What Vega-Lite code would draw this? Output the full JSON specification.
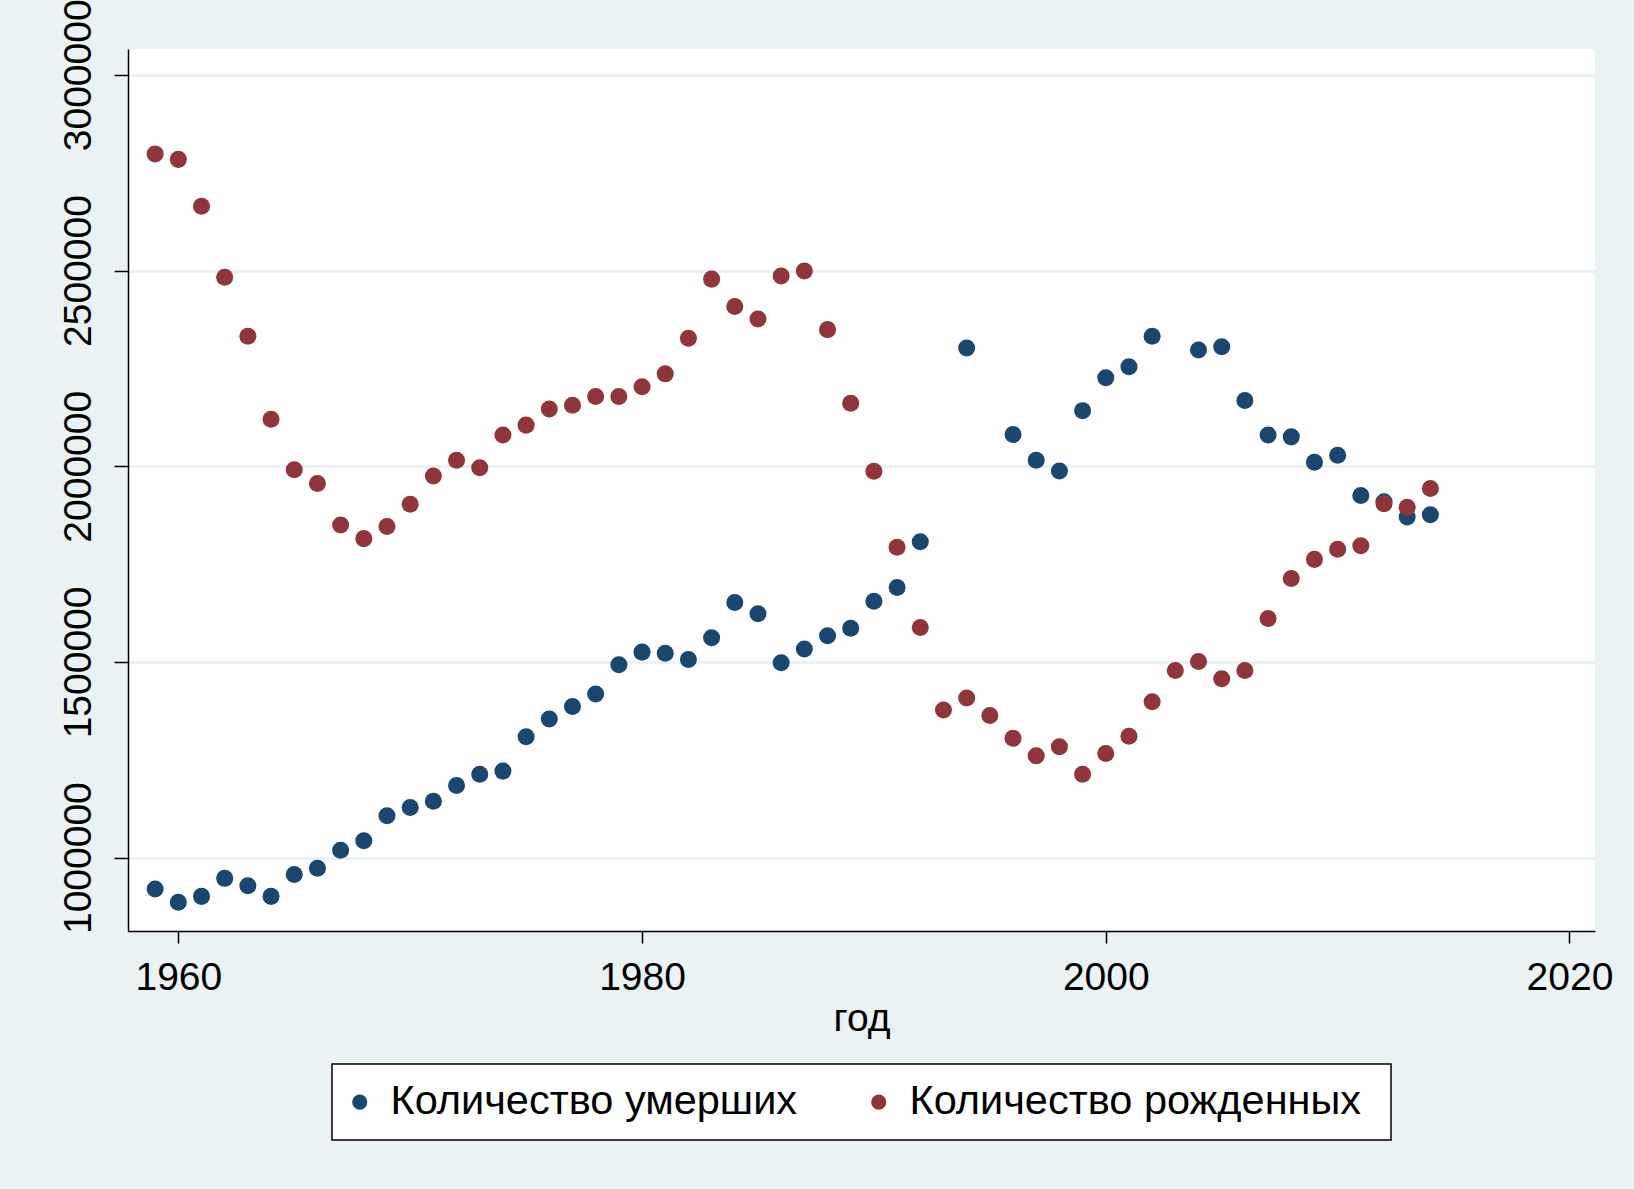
{
  "$schema": "https://vega.github.io/schema/vega-lite/v6.json",
  "width": 1467,
  "height": 882,
  "autosize": {"type": "none"},
  "padding": {"left": 128, "top": 49, "right": 39, "bottom": 258},
  "background": "#EAF2F3",
  "view": {"fill": "white", "stroke": null},
  "config": {"font": "Liberation Sans", "legend": {"strokeWidth": 1.5}},
  "data": {
    "values": [
      {"year": 1959, "series": "Количество умерших", "value": 920000},
      {"year": 1960, "series": "Количество умерших", "value": 886000},
      {"year": 1961, "series": "Количество умерших", "value": 901000},
      {"year": 1962, "series": "Количество умерших", "value": 947000},
      {"year": 1963, "series": "Количество умерших", "value": 928000},
      {"year": 1964, "series": "Количество умерших", "value": 901000},
      {"year": 1965, "series": "Количество умерших", "value": 957000},
      {"year": 1966, "series": "Количество умерших", "value": 973000},
      {"year": 1967, "series": "Количество умерших", "value": 1019000},
      {"year": 1968, "series": "Количество умерших", "value": 1043000},
      {"year": 1969, "series": "Количество умерших", "value": 1107000},
      {"year": 1970, "series": "Количество умерших", "value": 1128000},
      {"year": 1971, "series": "Количество умерших", "value": 1144000},
      {"year": 1972, "series": "Количество умерших", "value": 1184000},
      {"year": 1973, "series": "Количество умерших", "value": 1213000},
      {"year": 1974, "series": "Количество умерших", "value": 1221000},
      {"year": 1975, "series": "Количество умерших", "value": 1309000},
      {"year": 1976, "series": "Количество умерших", "value": 1354000},
      {"year": 1977, "series": "Количество умерших", "value": 1386000},
      {"year": 1978, "series": "Количество умерших", "value": 1418000},
      {"year": 1979, "series": "Количество умерших", "value": 1493000},
      {"year": 1980, "series": "Количество умерших", "value": 1525000},
      {"year": 1981, "series": "Количество умерших", "value": 1522000},
      {"year": 1982, "series": "Количество умерших", "value": 1506000},
      {"year": 1983, "series": "Количество умерших", "value": 1562000},
      {"year": 1984, "series": "Количество умерших", "value": 1652000},
      {"year": 1985, "series": "Количество умерших", "value": 1623000},
      {"year": 1986, "series": "Количество умерших", "value": 1498000},
      {"year": 1987, "series": "Количество умерших", "value": 1533000},
      {"year": 1988, "series": "Количество умерших", "value": 1567000},
      {"year": 1989, "series": "Количество умерших", "value": 1586000},
      {"year": 1990, "series": "Количество умерших", "value": 1655000},
      {"year": 1991, "series": "Количество умерших", "value": 1690000},
      {"year": 1992, "series": "Количество умерших", "value": 1807000},
      {"year": 1994, "series": "Количество умерших", "value": 2302000},
      {"year": 1996, "series": "Количество умерших", "value": 2081000},
      {"year": 1997, "series": "Количество умерших", "value": 2015000},
      {"year": 1998, "series": "Количество умерших", "value": 1988000},
      {"year": 1999, "series": "Количество умерших", "value": 2142000},
      {"year": 2000, "series": "Количество умерших", "value": 2226000},
      {"year": 2001, "series": "Количество умерших", "value": 2254000},
      {"year": 2002, "series": "Количество умерших", "value": 2332000},
      {"year": 2004, "series": "Количество умерших", "value": 2297000},
      {"year": 2005, "series": "Количество умерших", "value": 2305000},
      {"year": 2006, "series": "Количество умерших", "value": 2168000},
      {"year": 2007, "series": "Количество умерших", "value": 2080000},
      {"year": 2008, "series": "Количество умерших", "value": 2075000},
      {"year": 2009, "series": "Количество умерших", "value": 2010000},
      {"year": 2010, "series": "Количество умерших", "value": 2028000},
      {"year": 2011, "series": "Количество умерших", "value": 1925000},
      {"year": 2012, "series": "Количество умерших", "value": 1909000},
      {"year": 2013, "series": "Количество умерших", "value": 1870000},
      {"year": 2014, "series": "Количество умерших", "value": 1876000},
      {"year": 1959, "series": "Количество рожденных", "value": 2798000},
      {"year": 1960, "series": "Количество рожденных", "value": 2784000},
      {"year": 1961, "series": "Количество рожденных", "value": 2664000},
      {"year": 1962, "series": "Количество рожденных", "value": 2483000},
      {"year": 1963, "series": "Количество рожденных", "value": 2332000},
      {"year": 1964, "series": "Количество рожденных", "value": 2120000},
      {"year": 1965, "series": "Количество рожденных", "value": 1991000},
      {"year": 1966, "series": "Количество рожденных", "value": 1956000},
      {"year": 1967, "series": "Количество рожденных", "value": 1850000},
      {"year": 1968, "series": "Количество рожденных", "value": 1815000},
      {"year": 1969, "series": "Количество рожденных", "value": 1846000},
      {"year": 1970, "series": "Количество рожденных", "value": 1903000},
      {"year": 1971, "series": "Количество рожденных", "value": 1975000},
      {"year": 1972, "series": "Количество рожденных", "value": 2015000},
      {"year": 1973, "series": "Количество рожденных", "value": 1996000},
      {"year": 1974, "series": "Количество рожденных", "value": 2080000},
      {"year": 1975, "series": "Количество рожденных", "value": 2105000},
      {"year": 1976, "series": "Количество рожденных", "value": 2146000},
      {"year": 1977, "series": "Количество рожденных", "value": 2156000},
      {"year": 1978, "series": "Количество рожденных", "value": 2178000},
      {"year": 1979, "series": "Количество рожденных", "value": 2178000},
      {"year": 1980, "series": "Количество рожденных", "value": 2203000},
      {"year": 1981, "series": "Количество рожденных", "value": 2236000},
      {"year": 1982, "series": "Количество рожденных", "value": 2327000},
      {"year": 1983, "series": "Количество рожденных", "value": 2478000},
      {"year": 1984, "series": "Количество рожденных", "value": 2408000},
      {"year": 1985, "series": "Количество рожденных", "value": 2376000},
      {"year": 1986, "series": "Количество рожденных", "value": 2486000},
      {"year": 1987, "series": "Количество рожденных", "value": 2499000},
      {"year": 1988, "series": "Количество рожденных", "value": 2349000},
      {"year": 1989, "series": "Количество рожденных", "value": 2161000},
      {"year": 1990, "series": "Количество рожденных", "value": 1987000},
      {"year": 1991, "series": "Количество рожденных", "value": 1793000},
      {"year": 1992, "series": "Количество рожденных", "value": 1588000},
      {"year": 1993, "series": "Количество рожденных", "value": 1377000},
      {"year": 1994, "series": "Количество рожденных", "value": 1408000},
      {"year": 1995, "series": "Количество рожденных", "value": 1363000},
      {"year": 1996, "series": "Количество рожденных", "value": 1305000},
      {"year": 1997, "series": "Количество рожденных", "value": 1260000},
      {"year": 1998, "series": "Количество рожденных", "value": 1283000},
      {"year": 1999, "series": "Количество рожденных", "value": 1213000},
      {"year": 2000, "series": "Количество рожденных", "value": 1266000},
      {"year": 2001, "series": "Количество рожденных", "value": 1310000},
      {"year": 2002, "series": "Количество рожденных", "value": 1398000},
      {"year": 2003, "series": "Количество рожденных", "value": 1478000},
      {"year": 2004, "series": "Количество рожденных", "value": 1501000},
      {"year": 2005, "series": "Количество рожденных", "value": 1457000},
      {"year": 2006, "series": "Количество рожденных", "value": 1478000},
      {"year": 2007, "series": "Количество рожденных", "value": 1611000},
      {"year": 2008, "series": "Количество рожденных", "value": 1713000},
      {"year": 2009, "series": "Количество рожденных", "value": 1762000},
      {"year": 2010, "series": "Количество рожденных", "value": 1788000},
      {"year": 2011, "series": "Количество рожденных", "value": 1797000},
      {"year": 2012, "series": "Количество рожденных", "value": 1904000},
      {"year": 2013, "series": "Количество рожденных", "value": 1895000},
      {"year": 2014, "series": "Количество рожденных", "value": 1943000}
    ]
  },
  "mark": {"type": "point", "filled": true, "opacity": 1, "size": 290, "shape": "circle", "strokeWidth": 0},
  "encoding": {
    "x": {
      "field": "year",
      "type": "quantitative",
      "scale": {"domain": [1957.83, 2021.1], "nice": false, "zero": false},
      "axis": {
        "values": [1960, 1980, 2000, 2020],
        "format": "d",
        "grid": false,
        "title": "год",
        "titleFontSize": 39,
        "titleFontWeight": "normal",
        "titleColor": "black",
        "titlePadding": 2,
        "labelFontSize": 39,
        "labelColor": "black",
        "labelPadding": 15,
        "labelFlush": false,
        "labelOverlap": false,
        "tickSize": 12,
        "tickColor": "black",
        "tickWidth": 1.5,
        "domainColor": "black",
        "domainWidth": 1.5
      }
    },
    "y": {
      "field": "value",
      "type": "quantitative",
      "scale": {"domain": [812500, 3066000], "nice": false, "zero": false},
      "axis": {
        "values": [1000000, 1500000, 2000000, 2500000, 3000000],
        "format": "d",
        "grid": true,
        "gridColor": "#EAF2F3",
        "gridWidth": 3,
        "title": null,
        "labelAngle": -90,
        "labelAlign": "center",
        "labelBaseline": "bottom",
        "labelFontSize": 39,
        "labelColor": "black",
        "labelPadding": 16,
        "labelFlush": false,
        "labelOverlap": false,
        "labelBound": false,
        "tickSize": 14,
        "tickColor": "black",
        "tickWidth": 1.5,
        "domainColor": "black",
        "domainWidth": 1.5
      }
    },
    "color": {
      "field": "series",
      "type": "nominal",
      "sort": null,
      "scale": {
        "domain": ["Количество умерших", "Количество рожденных"],
        "range": ["#1A476F", "#90353B"]
      },
      "legend": {
        "title": "\u00a0",
        "titleOrient": "right",
        "titleFontSize": 10,
        "titlePadding": 13,
        "orient": "none",
        "legendX": 204,
        "legendY": 1015,
        "direction": "horizontal",
        "columns": 2,
        "padding": 17,
        "fillColor": "white",
        "strokeColor": "black",
        "labelFontSize": 41.5,
        "labelColor": "black",
        "labelOffset": 10,
        "labelLimit": 800,
        "columnPadding": 70,
        "symbolType": "circle",
        "symbolSize": 230,
        "symbolOffset": -10,
        "symbolStrokeWidth": 0,
        "symbolOpacity": 1
      }
    }
  }
}
